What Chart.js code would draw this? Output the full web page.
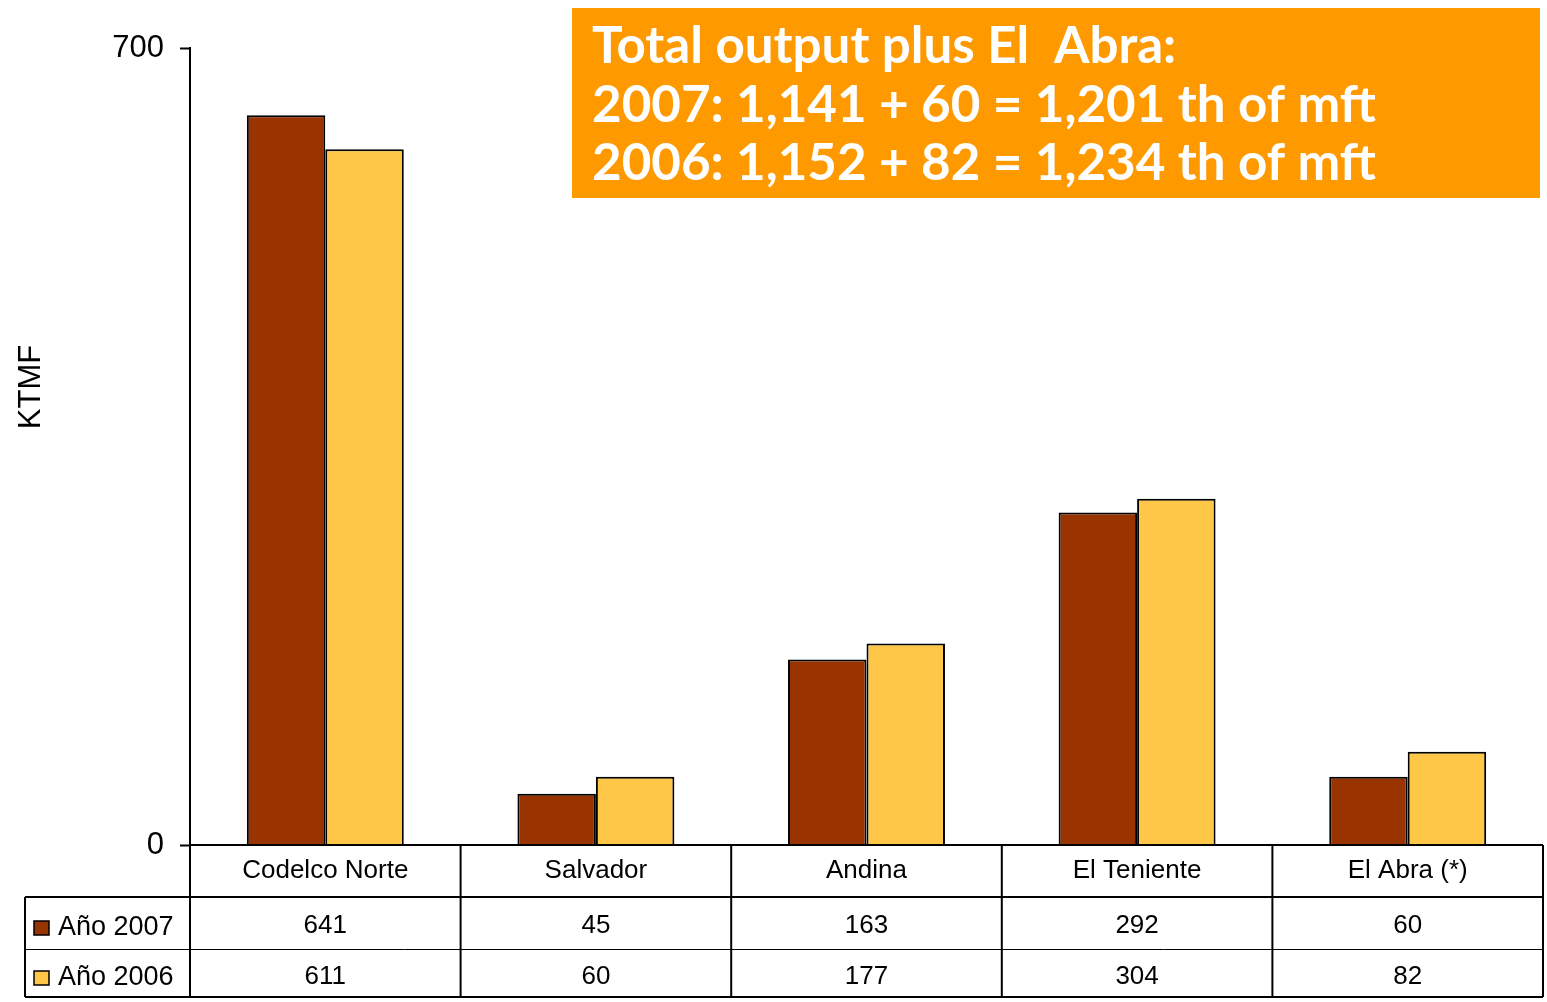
<!DOCTYPE html>
<html lang="en">
  <head>
    <meta charset="utf-8" />
    <title>KTMF por división</title>
    <style>
      * {
        margin: 0;
        padding: 0;
      }
      body {
        background: white;
        width: 1547px;
        height: 1002px;
        overflow: hidden;
      }
    </style>
  </head>
  <body>
    <canvas id="myChart" width="1547" height="1002"></canvas>

    <script src="https://cdn.jsdelivr.net/npm/chart.js@4.4.1/dist/chart.umd.min.js"></script>

    <script>
      const divisions = ["Codelco Norte", "Salvador", "Andina", "El Teniente", "El Abra (*)"];
      const year2007 = [641, 45, 163, 292, 60];
      const year2006 = [611, 60, 177, 304, 82];
      const seriesNames = ["Año 2007", "Año 2006"];
      const yTicks = [0, 700];
      const noteLines = [
        "Total output plus El  Abra:",
        "2007: 1,141 + 60 = 1,201 th of mft",
        "2006: 1,152 + 82 = 1,234 th of mft",
      ];

      const colors = ["#993300", "#FFC748"];
      const FONT = "Liberation Sans, Arial, sans-serif";

      // data table under the plot (category row + one row per series)
      const dataTable = {
        id: "dataTable",
        afterDraw(chart) {
          const { ctx, chartArea, scales: { x } } = chart;
          const left = chartArea.left;
          const right = chartArea.right;
          const r0 = chartArea.bottom;
          const r1 = r0 + 52;
          const r2 = r1 + 52;
          const r3 = r2 + 48;
          const legendLeft = 25;
          const step = (right - left) / divisions.length;

          ctx.save();
          ctx.strokeStyle = "#000";
          ctx.lineWidth = 2;
          ctx.beginPath();
          // horizontal lines
          ctx.moveTo(left, r0); ctx.lineTo(right, r0);
          ctx.moveTo(legendLeft, r1); ctx.lineTo(right, r1);
          ctx.moveTo(legendLeft, r3); ctx.lineTo(right, r3);
          // vertical lines
          ctx.moveTo(legendLeft, r1); ctx.lineTo(legendLeft, r3);
          for (let i = 0; i <= divisions.length; i++) {
            const xx = left + step * i;
            ctx.moveTo(xx, r0); ctx.lineTo(xx, r3);
          }
          ctx.stroke();
          ctx.lineWidth = 1;
          ctx.beginPath();
          ctx.moveTo(legendLeft, r2 + 0.5); ctx.lineTo(right, r2 + 0.5);
          ctx.stroke();

          ctx.fillStyle = "#000";
          ctx.font = "26px " + FONT;
          ctx.textAlign = "center";
          ctx.textBaseline = "middle";
          divisions.forEach((d, i) => {
            const cx = x.getPixelForValue(i);
            ctx.fillText(d, cx, (r0 + r1) / 2);
            ctx.fillText(String(year2007[i]), cx, (r1 + r2) / 2 + 3);
            ctx.fillText(String(year2006[i]), cx, (r2 + r3) / 2 + 4);
          });

          // legend keys
          const rows = [(r1 + r2) / 2 + 5, (r2 + r3) / 2 + 5];
          ctx.textAlign = "left";
          ctx.font = "27px " + FONT;
          rows.forEach((ry, k) => {
            ctx.fillStyle = colors[k];
            ctx.fillRect(34, ry - 7, 15, 14);
            ctx.lineWidth = 1.5;
            ctx.strokeStyle = "#000";
            ctx.strokeRect(34, ry - 7, 15, 14);
            ctx.fillStyle = "#000";
            ctx.fillText(seriesNames[k], 58, ry);
          });

          // y axis title
          ctx.save();
          ctx.translate(31, 387);
          ctx.rotate(-Math.PI / 2);
          ctx.textAlign = "center";
          ctx.font = "31px " + FONT;
          ctx.fillText("KTMF", 0, 0);
          ctx.restore();
          ctx.restore();
        },
      };

      // orange note box
      const noteBox = {
        id: "noteBox",
        afterDraw(chart) {
          const { ctx } = chart;
          ctx.save();
          ctx.fillStyle = "#FF9900";
          ctx.fillRect(572, 8, 968, 190);
          ctx.fillStyle = "#fff";
          ctx.textAlign = "left";
          ctx.textBaseline = "alphabetic";
          let size = 50;
          ctx.font = "bold " + size + "px Lato, sans-serif";
          const w = ctx.measureText(noteLines[1]).width;
          size = size * 784 / w;
          ctx.font = "bold " + size + "px Lato, sans-serif";
          noteLines.forEach((t, i) => ctx.fillText(t, 592, 63 + i * 58.5));
          ctx.restore();
        },
      };

      const config = {
        type: "bar",
        data: {
          labels: divisions,
          datasets: [
            {
              label: seriesNames[0],
              data: year2007,
              backgroundColor: colors[0],
              borderColor: "#000",
              borderWidth: 2,
              borderSkipped: "bottom",
            },
            {
              label: seriesNames[1],
              data: year2006,
              backgroundColor: colors[1],
              borderColor: "#000",
              borderWidth: 2,
              borderSkipped: "bottom",
            },
          ],
        },
        options: {
          responsive: false,
          animation: false,
          layout: {
            padding: { left: 0, top: 48, right: 4, bottom: 157 },
          },
          datasets: {
            bar: { categoryPercentage: 0.58, barPercentage: 1 },
          },
          plugins: {
            legend: { display: false },
            tooltip: { enabled: false },
          },
          scales: {
            x: {
              display: false,
            },
            y: {
              min: 0,
              max: 700,
              afterFit(scale) {
                scale.width = 190;
              },
              afterBuildTicks(scale) {
                scale.ticks = yTicks.map((v) => ({ value: v }));
              },
              border: { display: true, color: "#000", width: 2 },
              grid: {
                display: true,
                drawOnChartArea: false,
                drawTicks: true,
                tickLength: 10,
                tickWidth: 2,
                color: "#000",
              },
              ticks: {
                color: "#000",
                padding: 16,
                font: { size: 31, family: FONT },
              },
            },
          },
        },
        plugins: [dataTable, noteBox],
      };

      const myChart = new Chart(document.getElementById("myChart"), config);
    </script>
  </body>
</html>
